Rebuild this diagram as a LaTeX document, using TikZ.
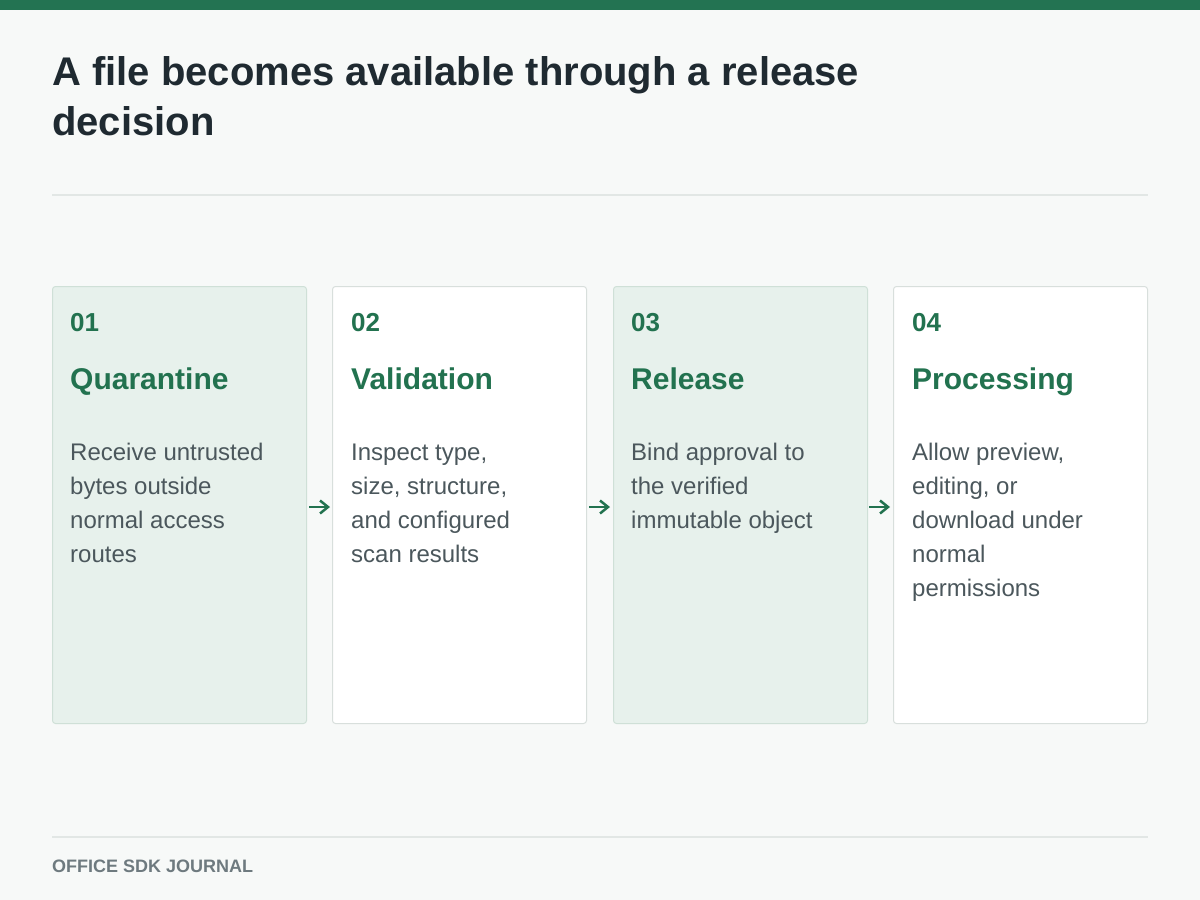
\documentclass[tikz,border=0pt]{standalone}
\usepackage{fontspec}
\setmainfont{Liberation Sans}
\usetikzlibrary{arrows.meta}
\definecolor{bg}{HTML}{F7F9F8}
\definecolor{topbar}{HTML}{237352}
\definecolor{titlec}{HTML}{1F2A31}
\definecolor{rulec}{HTML}{E2E7E5}
\definecolor{greenc}{HTML}{22724F}
\definecolor{bodyc}{HTML}{4B575C}
\definecolor{footc}{HTML}{6E7A7F}
\definecolor{tintfill}{HTML}{E7F1EC}
\definecolor{tintdraw}{HTML}{CFE0D7}
\definecolor{plaindraw}{HTML}{D8DFDC}
\tikzset{
  card/.style={draw=plaindraw, fill=white, line width=1pt, rounded corners=3pt},
  tintcard/.style={draw=tintdraw, fill=tintfill, line width=1pt, rounded corners=3pt},
  numtxt/.style={anchor=base west, inner sep=0pt, text=greenc, font=\fontsize{26}{30}\selectfont\bfseries},
  headtxt/.style={anchor=base west, inner sep=0pt, text=greenc, font=\fontsize{30}{34}\selectfont\bfseries},
  bodytxt/.style={anchor=base west, inner sep=0pt, text=bodyc, align=left, font=\fontsize{24}{34}\selectfont},
  flow/.style={-{Straight Barb[length=8pt,width=13pt,line width=2.5pt]}, draw=greenc, line width=2.5pt},
}
\begin{document}
\begin{tikzpicture}[x=1pt,y=-1pt]
\useasboundingbox (0,0) rectangle (1200,900);
\fill[bg] (0,0) rectangle (1200,900);
\fill[topbar] (0,0) rectangle (1200,10);
% multi-line nodes: base anchor = baseline of the last line
\node[anchor=base west, inner sep=0pt, text=titlec, align=left, font=\fontsize{40}{50}\selectfont\bfseries] (title) at (52,135) {A file becomes available through a release\\decision};
\draw[rulec, line width=1.5pt] (52,195) -- (1148,195);
\draw[rulec, line width=1.5pt] (52,837) -- (1148,837);
\node[anchor=base west, inner sep=0pt, text=footc, font=\fontsize{18}{20}\selectfont\bfseries] (foot) at (52,872) {OFFICE SDK JOURNAL};
% cards
\node[tintcard, minimum width=254pt, minimum height=437pt, anchor=north west] (c1) at (52,286) {};
\node[card, minimum width=254pt, minimum height=437pt, anchor=north west] (c2) at (332,286) {};
\node[tintcard, minimum width=254pt, minimum height=437pt, anchor=north west] (c3) at (613,286) {};
\node[card, minimum width=254pt, minimum height=437pt, anchor=north west] (c4) at (893,286) {};
% card 1
\node[numtxt] (n1) at (70,331) {01};
\node[headtxt] (h1) at (70,389) {Quarantine};
\node[bodytxt] (b1) at (70,562) {Receive untrusted\\bytes outside\\normal access\\routes};
% card 2
\node[numtxt] (n2) at (351,331) {02};
\node[headtxt] (h2) at (351,389) {Validation};
\node[bodytxt] (b2) at (351,562) {Inspect type,\\size, structure,\\and configured\\scan results};
% card 3
\node[numtxt] (n3) at (631,331) {03};
\node[headtxt] (h3) at (631,389) {Release};
\node[bodytxt] (b3) at (631,528) {Bind approval to\\the verified\\immutable object};
% card 4
\node[numtxt] (n4) at (912,331) {04};
\node[headtxt] (h4) at (912,389) {Processing};
\node[bodytxt] (b4) at (912,596) {Allow preview,\\editing, or\\download under\\normal\\permissions};
% arrows
\coordinate (a1s) at (309,507); \coordinate (a1e) at (330,507);
\coordinate (a2s) at (589,507); \coordinate (a2e) at (610,507);
\coordinate (a3s) at (869,507); \coordinate (a3e) at (890,507);
\draw[flow] (a1s) -- (a1e);
\draw[flow] (a2s) -- (a2e);
\draw[flow] (a3s) -- (a3e);
\end{tikzpicture}
\end{document}
